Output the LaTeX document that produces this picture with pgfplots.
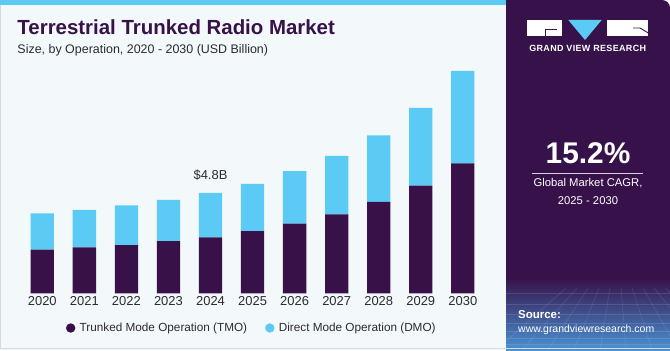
\documentclass[border=0pt]{standalone}
\usepackage{fontspec}
\setmainfont{Liberation Sans}
\usepackage{pgfplots}
\pgfplotsset{compat=1.18}
\definecolor{tmo}{HTML}{371148}
\definecolor{dmo}{HTML}{5BCAF5}
\definecolor{panel}{HTML}{F3F8FB}
\definecolor{side}{HTML}{37124A}
\definecolor{sideblue}{HTML}{4A92D4}
\definecolor{framegray}{HTML}{D3D8DC}
\definecolor{txt}{HTML}{2B2B2B}
\begin{document}
\begin{tikzpicture}[x=1bp,y=1bp]
\useasboundingbox (0,0) rectangle (670,350);
% main panel
\fill[panel] (0,0) rectangle (506,350);
\draw[framegray, line width=1.2bp] (0.6,345) -- (0.6,1.2) -- (506,1.2);
\fill[dmo] (0,345) rectangle (506,350);
% right panel
\fill[side] (506,0) rectangle (662,350);
\fill[side] (506,0) rectangle (670,342);
\fill[side] (662,342) circle (8);
\shade[top color=side, bottom color=sideblue] (506,0) rectangle (670,72);
\foreach \yy in {6,12,19,27,36,46,57} {\draw[white, opacity=0.12, line width=0.5bp] (506,\yy) -- (670,\yy);}
\foreach \xx in {-40,-20,0,20,40,60,80,100,120,140,160,180,200} {\draw[white, opacity=0.12, line width=0.5bp] (588+\xx*0.55,62) -- (588+\xx*1.3-40,0);}
\draw[framegray, line width=1.2bp] (506,1.2) -- (670,1.2);
% logo
\fill[white] (527.3,314.3) rectangle (561.7,330);
\draw[side, line width=0.9bp] (545,314.3) -- (545,320.5) -- (557,320.5);
\fill[dmo] (568.3,330) -- (601.7,330) -- (585,310) -- cycle;
\fill[white] (607.3,314.3) rectangle (648.3,330);
\draw[side, line width=0.9bp] (633,322) -- (640,322) -- (648.3,317);
\node[white, font=\bfseries\fontsize{9}{10}\selectfont] at (587.7,301.7) {\addfontfeature{LetterSpace=4}GRAND VIEW RESEARCH};
% CAGR
\node[white, font=\bfseries\fontsize{30}{30}\selectfont] at (588,197) {15.2\%};
\draw[white!80!side, line width=0.8bp] (531.7,176.7) -- (642.7,176.7);
\node[white, font=\fontsize{11.3}{12}\selectfont] at (588,166.7) {Global Market CAGR,};
\node[white, font=\fontsize{11.3}{12}\selectfont] at (588,149.3) {2025 - 2030};
% source
\node[white, anchor=west, inner sep=0, font=\bfseries\fontsize{11.5}{12}\selectfont] at (518,35) {Source:};
\node[white, anchor=west, inner sep=0, font=\fontsize{10.5}{12}\selectfont] at (518,20.7) {www.grandviewresearch.com};
% titles
\node[tmo, anchor=base west, inner sep=0, font=\bfseries\fontsize{20.5}{22}\selectfont] at (17.3,315.7) {Terrestrial Trunked Radio Market};
\node[txt, anchor=base west, inner sep=0, font=\fontsize{12.5}{14}\selectfont] at (17.3,296.5) {Size, by Operation, 2020 - 2030 (USD Billion)};
\begin{axis}[
  at={(0.25bp,56.7bp)}, anchor=south west,
  scale only axis, width=504.6bp, height=250.8bp,
  xmin=-1, xmax=11, ymin=0, ymax=12,
  ybar stacked, bar width=23.3bp,
  axis line style={draw=none},
  ytick=\empty,
  xtick={0,1,2,3,4,5,6,7,8,9,10},
  xticklabels={2020,2021,2022,2023,2024,2025,2026,2027,2028,2029,2030},
  major tick length=0pt,
  xticklabel style={font=\fontsize{13}{14}\selectfont, text=txt},
  legend style={at={(axis description cs:0.4985,-0.1384)}, anchor=center, draw=none, fill=none,
    font=\fontsize{11.8}{13}\selectfont, text=txt,
    /tikz/every even column/.append style={column sep=16bp}},
  legend columns=2,
  legend image code/.code={\fill[#1] (0bp,0bp) circle (4.7bp); \path (7bp,0bp);},
]
\addplot[fill=tmo, draw=none] coordinates {(0,2.09) (1,2.20) (2,2.31) (3,2.50) (4,2.68) (5,2.97) (6,3.33) (7,3.78) (8,4.37) (9,5.15) (10,6.22)};
\addplot[fill=dmo, draw=none] coordinates {(0,1.74) (1,1.79) (2,1.90) (3,1.97) (4,2.12) (5,2.27) (6,2.51) (7,2.80) (8,3.19) (9,3.72) (10,4.42)};
\legend{Trunked Mode Operation (TMO), Direct Mode Operation (DMO)}
\node[txt, anchor=base, font=\fontsize{13}{14}\selectfont] at (axis cs:4,4.8) [yshift=13.7bp] {\$4.8B};
\end{axis}
\end{tikzpicture}
\end{document}
